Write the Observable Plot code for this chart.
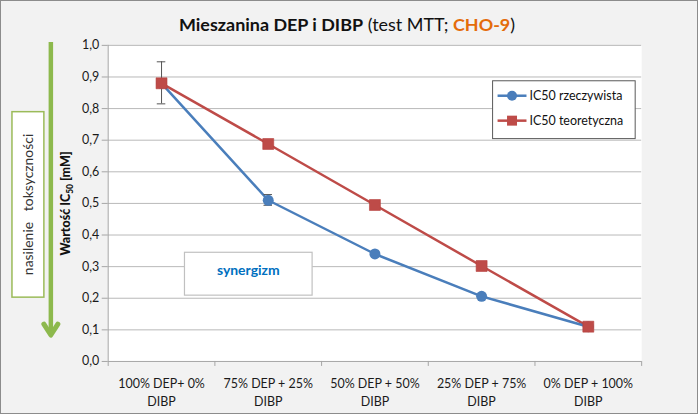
<!DOCTYPE html>
<html><head><meta charset="utf-8">
<script src="https://cdn.jsdelivr.net/npm/d3@7"></script>
<script src="https://cdn.jsdelivr.net/npm/@observablehq/plot@0.6"></script>
<style>
html,body{margin:0;padding:0;background:#fff;}
#wrap{position:relative;width:698px;height:414px;box-sizing:border-box;border:1px solid #8c8c8c;background:#f2f2f2;overflow:hidden;font-family:Lato,"Open Sans",sans-serif;}
#wrap svg{position:absolute;left:-1px;top:-1px;}
</style></head>
<body><div id="wrap"></div>
<script>
const categories = ["100% DEP+ 0%\nDIBP", "75% DEP + 25%\nDIBP", "50% DEP + 50%\nDIBP", "25% DEP + 75%\nDIBP", "0% DEP + 100%\nDIBP"];
const rzeczywista = [0.88, 0.51, 0.34, 0.206, 0.11];
const teoretyczna = [0.88, 0.688, 0.495, 0.302, 0.11];
const errLow = [0.815, 0.494, null, null, null];
const errHigh = [0.948, 0.528, null, null, null];
const yTicks = [0, 0.1, 0.2, 0.3, 0.4, 0.5, 0.6, 0.7, 0.8, 0.9, 1.0];
const seriesNames = ["IC50 rzeczywista", "IC50 teoretyczna"];

const blue = "#4a7ebb", red = "#be4b48";
const idx = categories.map((_, i) => i);
const bounds = d3.range(categories.length + 1).map(i => i - 0.5);
const errs = idx.filter(i => errLow[i] != null);

const chart = Plot.plot({
  width: 698, height: 414,
  marginLeft: 108, marginRight: 55, marginTop: 45, marginBottom: 52,
  style: {fontFamily: "Lato, 'Open Sans', sans-serif", background: "transparent", color: "#1a1a1a"},
  x: {domain: [-0.5, categories.length - 0.5], axis: null},
  y: {domain: [0, 1], axis: null},
  marks: [
    Plot.frame({fill: "white", stroke: null}),
    Plot.ruleY(yTicks.slice(1), {stroke: "#b9b9b9", strokeWidth: 1}),
    Plot.ruleY([0], {stroke: "#a6a6a6"}),
    Plot.ruleX([-0.5], {stroke: "#a6a6a6"}),
    Plot.axisY({ticks: yTicks, tickFormat: d => d.toFixed(1).replace(".", ","), tickSize: 6, tickPadding: 3, fontSize: 12.5, stroke: "#a6a6a6", label: null}),
    Plot.axisX({ticks: bounds, tickFormat: () => "", tickSize: 5, stroke: "#a6a6a6", label: null}),
    Plot.text(idx, {x: i => i, y: 0, text: i => categories[i], dy: 14, lineAnchor: "top", fontSize: 12.5, lineHeight: 1.45, fill: "#1a1a1a"}),
    Plot.line(idx, {x: i => i, y: i => teoretyczna[i], stroke: red, strokeWidth: 2.5}),
    Plot.line(idx, {x: i => i, y: i => rzeczywista[i], stroke: blue, strokeWidth: 2.5}),
    Plot.ruleX(errs, {x: i => i, y1: i => errLow[i], y2: i => errHigh[i], stroke: "#555", strokeWidth: 1}),
    Plot.ruleY(errs, {x1: i => i - 0.04, x2: i => i + 0.04, y: i => errLow[i], stroke: "#555", strokeWidth: 1}),
    Plot.ruleY(errs, {x1: i => i - 0.04, x2: i => i + 0.04, y: i => errHigh[i], stroke: "#555", strokeWidth: 1}),
    Plot.dot(idx, {x: i => i, y: i => rzeczywista[i], r: 5.5, fill: blue, stroke: null}),
    Plot.dot(idx, {x: i => i, y: i => teoretyczna[i], r: 6.2, symbol: "square", fill: red, stroke: "#b5403d", strokeWidth: 0.6})
  ]
});

const svg = d3.select(chart);
// Title
const t = svg.append("text").attr("x", 348).attr("y", 31).attr("text-anchor", "middle")
  .attr("font-size", 18).attr("fill", "#111");
t.append("tspan").attr("font-weight", "bold").text("Mieszanina DEP i DIBP");
t.append("tspan").text(" (test MTT; ");
t.append("tspan").attr("font-weight", "bold").attr("fill", "#e46c0a").text("CHO-9");
t.append("tspan").text(")");

// Y title
const yt = svg.append("text").attr("transform", "translate(70,204) rotate(-90)").attr("text-anchor", "middle")
  .attr("font-size", 12.5).attr("font-weight", "900").attr("fill", "#111");
yt.append("tspan").text("Wartość IC");
yt.append("tspan").attr("font-size", 8.5).attr("dy", 3).text("50");
yt.append("tspan").attr("dy", -3).text(" [mM]");

// Green box + arrow
svg.append("rect").attr("x", 12).attr("y", 112).attr("width", 32).attr("height", 186)
  .attr("fill", "white").attr("stroke", "#9bbb59").attr("stroke-width", 1.5);
svg.append("text").attr("transform", "translate(33,205) rotate(-90)").attr("text-anchor", "middle")
  .attr("font-size", 14).attr("fill", "#333").style("white-space", "pre").text("nasilenie   toksyczności");
svg.append("line").attr("x1", 51).attr("x2", 51).attr("y1", 42).attr("y2", 335)
  .attr("stroke", "#8db94d").attr("stroke-width", 4.5);
svg.append("path").attr("d", "M44,325 L51,336 L58,325").attr("fill", "none")
  .attr("stroke", "#8db94d").attr("stroke-width", 5).attr("stroke-linecap", "round").attr("stroke-linejoin", "round");

// Synergizm box
svg.append("rect").attr("x", 185).attr("y", 253).attr("width", 128).attr("height", 43)
  .attr("fill", "white").attr("stroke", "#c0c0c0").attr("stroke-width", 1.2);
svg.append("text").attr("x", 249).attr("y", 276).attr("text-anchor", "middle")
  .attr("font-size", 14).attr("font-weight", "bold").attr("fill", "#0070c0").text("synergizm");

// Legend
const lg = svg.append("g").attr("text-anchor", "start");
lg.append("rect").attr("x", 494).attr("y", 81).attr("width", 143).attr("height", 58)
  .attr("fill", "white").attr("stroke", "#595959").attr("stroke-width", 1);
[[blue, "circle", 96], [red, "square", 121]].forEach(([c, s, y], k) => {
  lg.append("line").attr("x1", 499).attr("x2", 528).attr("y1", y).attr("y2", y).attr("stroke", c).attr("stroke-width", 2.5);
  if (s === "circle") lg.append("circle").attr("cx", 513.5).attr("cy", y).attr("r", 5).attr("fill", c);
  else lg.append("rect").attr("x", 508.5).attr("y", y - 5).attr("width", 10).attr("height", 10).attr("fill", c);
  lg.append("text").attr("x", 531).attr("y", y + 4.5).attr("text-anchor", "start").attr("font-size", 12.5).attr("fill", "#111").text(seriesNames[k]);
});

document.getElementById("wrap").appendChild(chart);
</script></body></html>
